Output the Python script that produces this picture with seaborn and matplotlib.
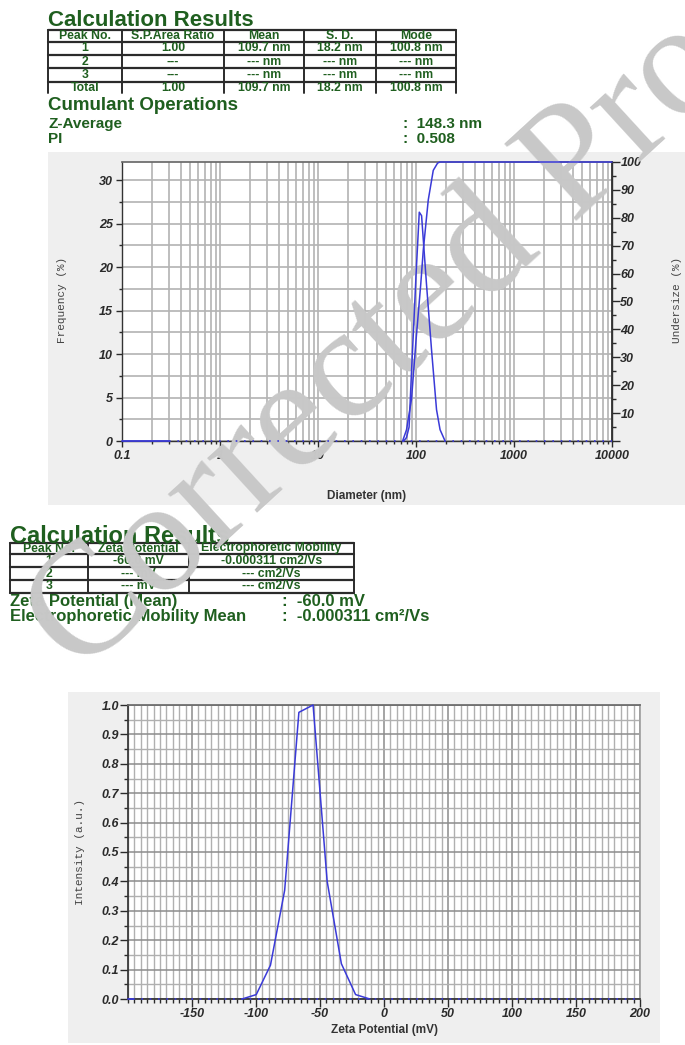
import numpy as np
import pandas as pd
import matplotlib
matplotlib.use("Agg")
import matplotlib.pyplot as plt
import seaborn as sns
from matplotlib.patches import Rectangle
from matplotlib.lines import Line2D
from matplotlib.ticker import LogLocator, NullFormatter, MultipleLocator

# ---------------- data ----------------
size_header = ["Peak No.", "S.P.Area Ratio", "Mean", "S. D.", "Mode"]
size_peak1 = ["1", "1.00", "109.7 nm", "18.2 nm", "100.8 nm"]
size_peak2 = ["2", "---", "--- nm", "--- nm", "--- nm"]
size_peak3 = ["3", "---", "--- nm", "--- nm", "--- nm"]
size_total = ["Total", "1.00", "109.7 nm", "18.2 nm", "100.8 nm"]
z_average = "148.3 nm"
pi_index = "0.508"

diameter_nm = [75, 80, 85, 90, 95, 100, 108, 114, 128, 144, 162, 176, 198]
frequency_pct = [0.0, 0.4, 1.6, 8.0, 13.5, 19.0, 26.3, 25.9, 18.0, 10.5, 3.6, 1.3, 0.0]
diameter_cum_nm = [73, 80, 90, 100, 111.7, 118.7, 133.4, 150, 166, 175, 10000]
undersize_pct = [0, 4, 15, 36, 56, 68.5, 86.4, 97, 99.6, 100, 100]
diameter_flat_nm = [0.1, 0.3]
frequency_flat_pct = [0, 0]
diameter_base_nm = [0.3, 10000]
size_ticks = [0.1, 1, 10, 100, 1000, 10000]
size_tick_labels = ["0.1", "1", "10", "100", "1000", "10000"]
freq_ticks = [0, 5, 10, 15, 20, 25, 30]
freq_tick_labels = ["0", "5", "10", "15", "20", "25", "30"]
under_ticks = [0, 10, 20, 30, 40, 50, 60, 70, 80, 90, 100]
under_tick_labels = ["", "10", "20", "30", "40", "50", "60", "70", "80", "90", "100"]

zeta_header = ["Peak No.", "Zeta Potential", "Electrophoretic Mobility"]
zeta_peak1 = ["1", "-60.0 mV", "-0.000311 cm2/Vs"]
zeta_peak2 = ["2", "--- mV", "--- cm2/Vs"]
zeta_peak3 = ["3", "--- mV", "--- cm2/Vs"]
zeta_mean = "-60.0 mV"
mobility_mean = "-0.000311 cm\u00b2/Vs"

zeta_mv = [-110.9, -99.8, -88.7, -77.6, -66.5, -55.4, -44.4, -33.3, -22.2, -11.1]
intensity = [0.0, 0.015, 0.115, 0.37, 0.975, 1.0, 0.40, 0.12, 0.015, 0.0]
zeta_flat_mv = [-200, -196]
zeta_base_mv = [-196, 200]
zeta_ticks = [-150, -100, -50, 0, 50, 100, 150, 200]
zeta_tick_labels = ["-150", "-100", "-50", "0", "50", "100", "150", "200"]
intensity_ticks = [0.0, 0.1, 0.2, 0.3, 0.4, 0.5, 0.6, 0.7, 0.8, 0.9, 1.0]
intensity_tick_labels = ["0.0", "0.1", "0.2", "0.3", "0.4", "0.5", "0.6", "0.7", "0.8", "0.9", "1.0"]

watermark_text = "Corrected Proof"

# ---------------- style ----------------
sns.set_theme(style="white")
plt.rcParams["font.family"] = ["Liberation Sans", "DejaVu Sans"]

W, H = 685, 1045
GREEN = "#1f5f1f"
BLUE = "#3a3ad8"
TICKC = "#2a2a2a"
GRID = "#b3b3b3"
PANEL = "#efefef"


def fx(x):
    return x / W


def fy(y):
    return 1 - y / H


fig = plt.figure(figsize=(W / 100, H / 100), dpi=100)
fig.patch.set_facecolor("white")

# gray panels
fig.patches.append(Rectangle((fx(48), fy(505)), (685 - 48) / W, (505 - 152) / H,
                             transform=fig.transFigure, facecolor=PANEL, edgecolor="none", zorder=-10))
fig.patches.append(Rectangle((fx(68), fy(1043)), (660 - 68) / W, (1043 - 692) / H,
                             transform=fig.transFigure, facecolor=PANEL, edgecolor="none", zorder=-10))


def ftext(x, y, s, **kw):
    base = dict(color=GREEN, fontweight="bold", zorder=3)
    base.update(kw)
    fig.text(fx(x), fy(y), s, **base)


def draw_table(xe, ye_lines, y_bottom, row_centers, rows, fs):
    for y in ye_lines:
        fig.add_artist(Line2D([fx(xe[0]), fx(xe[-1])], [fy(y), fy(y)], transform=fig.transFigure,
                              color="#2b2b2b", lw=1.6, zorder=2))
    for x in xe:
        fig.add_artist(Line2D([fx(x), fx(x)], [fy(ye_lines[0]), fy(y_bottom)], transform=fig.transFigure,
                              color="#2b2b2b", lw=1.4, zorder=2))
    for yc, row in zip(row_centers, rows):
        for i, s in enumerate(row):
            xc = (xe[i] + xe[i + 1]) / 2
            ftext(xc, yc, s, ha="center", va="center", fontsize=fs)


# ---------------- top text block ----------------
ftext(48, 26, "Calculation Results", fontsize=16, va="baseline")
draw_table([48, 122, 224, 304, 376, 456], [30, 41.7, 55, 68.3, 81.7], 93,
           [36, 48.5, 61.8, 75, 88],
           [size_header, size_peak1, size_peak2, size_peak3, size_total], 8.8)
ftext(48, 110, "Cumulant Operations", fontsize=13.5, va="baseline")
ftext(48, 128, "Z-Average", fontsize=11, va="baseline")
ftext(403, 128, ":  " + z_average, fontsize=11, va="baseline")
ftext(48, 143, "PI", fontsize=11, va="baseline")
ftext(403, 143, ":  " + pi_index, fontsize=11, va="baseline")

# ---------------- chart 1: size distribution ----------------
rect1 = [fx(122), fy(441), (612 - 122) / W, (441 - 162) / H]
ax1 = fig.add_axes(rect1, zorder=0)
ax1.set_facecolor("white")
ax1.set_xscale("log")
ax1.set_xlim(0.1, 10000)
ax1.set_ylim(0, 32.07)
ax1.set_xticks(size_ticks)
ax1.set_xticklabels(size_tick_labels, fontweight="bold", fontstyle="italic", fontsize=9, color=TICKC)
ax1.xaxis.set_minor_locator(LogLocator(base=10, subs=np.arange(2, 10)))
ax1.xaxis.set_minor_formatter(NullFormatter())
ax1.set_yticks(freq_ticks)
ax1.set_yticklabels(freq_tick_labels, fontweight="bold", fontstyle="italic", fontsize=9, color=TICKC)
ax1.yaxis.set_minor_locator(MultipleLocator(2.5))
ax1.tick_params(which="major", direction="out", length=4.5, width=1, color=TICKC, pad=2,
                bottom=True, left=True)
ax1.tick_params(which="minor", direction="out", length=2.5, width=1, color=TICKC,
                bottom=True, left=True)
ax1.grid(True, which="both", color=GRID, lw=1.2)
for s in ["left", "bottom", "right"]:
    ax1.spines[s].set_color("#333333")
    ax1.spines[s].set_linewidth(1.0)
ax1.spines["top"].set_color("#6a6a6a")
ax1.set_xlabel("")
ax1.set_ylabel("")

ax1r = ax1.twinx()
ax1r.set_ylim(0, 100)
ax1r.set_yticks(under_ticks)
ax1r.set_yticklabels(under_tick_labels, fontweight="bold", fontstyle="italic", fontsize=9, color=TICKC)
ax1r.yaxis.set_minor_locator(MultipleLocator(5))
ax1r.tick_params(which="major", direction="out", length=6, width=1, color=TICKC, pad=0, right=True)
ax1r.tick_params(which="minor", direction="out", length=3, width=1, color=TICKC, right=True)
ax1r.grid(False)
for s in ax1r.spines.values():
    s.set_visible(False)
ax1r.spines["right"].set_visible(True)
ax1r.spines["right"].set_color("#333333")

fig.text(fx(62), fy(300), "Frequency (%)", rotation=90, ha="center", va="center",
         family=["Liberation Mono", "DejaVu Sans Mono"], fontsize=8, color="#444444", zorder=3)
fig.text(fx(677), fy(300), "Undersize (%)", rotation=90, ha="center", va="center",
         family=["Liberation Mono", "DejaVu Sans Mono"], fontsize=8, color="#444444", zorder=3)
fig.text(fx(367), fy(496), "Diameter (nm)", ha="center", va="center", fontsize=8.5,
         fontweight="bold", color="#333333", zorder=3)

# ---------------- middle text block ----------------
ftext(10, 543, "Calculation Results", fontsize=17, va="baseline")
draw_table([10, 87.5, 188.5, 354], [542.7, 554.3, 567.3, 580, 592.7], 592.7,
           [548.5, 561, 573.6, 586.2],
           [zeta_header, zeta_peak1, zeta_peak2, zeta_peak3], 8.8)
ftext(10, 606, "Zeta Potential (Mean)", fontsize=12, va="baseline")
ftext(282, 606, ":  " + zeta_mean, fontsize=12, va="baseline")
ftext(10, 621, "Electrophoretic Mobility Mean", fontsize=12, va="baseline")
ftext(282, 621, ":  " + mobility_mean, fontsize=12, va="baseline")

# ---------------- chart 2: zeta potential ----------------
rect2 = [fx(128), fy(999), (640 - 128) / W, (999 - 705) / H]
ax2 = fig.add_axes(rect2, zorder=0)
ax2.set_facecolor("white")
ax2.set_xlim(-200, 200)
ax2.set_ylim(0, 1.0)
ax2.set_xticks(zeta_ticks)
ax2.set_xticklabels(zeta_tick_labels, fontweight="bold", fontstyle="italic", fontsize=9, color=TICKC)
ax2.xaxis.set_minor_locator(MultipleLocator(5))
ax2.set_yticks(intensity_ticks)
ax2.set_yticklabels(intensity_tick_labels, fontweight="bold", fontstyle="italic", fontsize=9, color=TICKC)
ax2.yaxis.set_minor_locator(MultipleLocator(0.05))
ax2.tick_params(which="major", direction="out", length=5.5, width=1, color=TICKC, pad=1,
                bottom=True, left=True)
ax2.tick_params(which="minor", direction="out", length=3, width=1, color=TICKC,
                bottom=True, left=True)
ax2.grid(True, which="minor", color="#b0b0b0", lw=1.0)
ax2.grid(True, which="major", color="#8c8c8c", lw=1.1)
for s in ["left", "bottom"]:
    ax2.spines[s].set_color("#333333")
ax2.spines["top"].set_color("#6a6a6a")
ax2.spines["right"].set_color("#a0a0a0")

fig.text(fx(80), fy(852), "Intensity (a.u.)", rotation=90, ha="center", va="center",
         family=["Liberation Mono", "DejaVu Sans Mono"], fontsize=8, color="#444444", zorder=3)
fig.text(fx(384), fy(1030), "Zeta Potential (mV)", ha="center", va="center", fontsize=8.5,
         fontweight="bold", color="#333333", zorder=3)

# ---------------- watermark ----------------
fig.text(fx(430), fy(302), watermark_text, rotation=42.5, rotation_mode="anchor",
         ha="center", va="center", fontsize=115, family=["Liberation Serif", "DejaVu Serif"],
         color="#c8c8c8", zorder=4)

# ---------------- curves on overlay axes (above watermark) ----------------
def overlay(rect, xscale, xlim, ylim):
    a = fig.add_axes(rect, zorder=6)
    a.set_xscale(xscale)
    a.set_xlim(*xlim)
    a.set_ylim(*ylim)
    a.axis("off")
    return a


o1 = overlay(rect1, "log", (0.1, 10000), (0, 32.07))
sns.lineplot(x=diameter_nm, y=frequency_pct, ax=o1, color=BLUE, lw=1.1, sort=False, estimator=None)
sns.lineplot(x=diameter_flat_nm, y=frequency_flat_pct, ax=o1, color=BLUE, lw=1.3, sort=False, estimator=None)
sns.lineplot(x=diameter_base_nm, y=frequency_flat_pct, ax=o1, color=BLUE, lw=1.2,
             linestyle=(0, (1, 4)), sort=False, estimator=None)
o1.set_xlim(0.1, 10000)
o1.set_ylim(0, 32.07)
o1b = overlay(rect1, "log", (0.1, 10000), (0, 100))
sns.lineplot(x=diameter_cum_nm, y=undersize_pct, ax=o1b, color=BLUE, lw=1.1, sort=False, estimator=None)
o1b.set_xlim(0.1, 10000)
o1b.set_ylim(0, 100)
for a in (o1, o1b):
    for ln in a.lines:
        ln.set_clip_on(False)
    a.set_xlabel("")
    a.set_ylabel("")

o2 = overlay(rect2, "linear", (-200, 200), (0, 1))
sns.lineplot(x=zeta_mv, y=intensity, ax=o2, color=BLUE, lw=1.1, sort=False, estimator=None)
sns.lineplot(x=zeta_flat_mv, y=[0, 0], ax=o2, color=BLUE, lw=1.3, sort=False, estimator=None)
sns.lineplot(x=zeta_base_mv, y=[0, 0], ax=o2, color=BLUE, lw=1.2, linestyle=(0, (1, 4)),
             sort=False, estimator=None)
o2.set_xlim(-200, 200)
o2.set_ylim(0, 1)
for ln in o2.lines:
    ln.set_clip_on(False)
o2.set_xlabel("")
o2.set_ylabel("")

fig.savefig("out.png", dpi=100, facecolor="white")
